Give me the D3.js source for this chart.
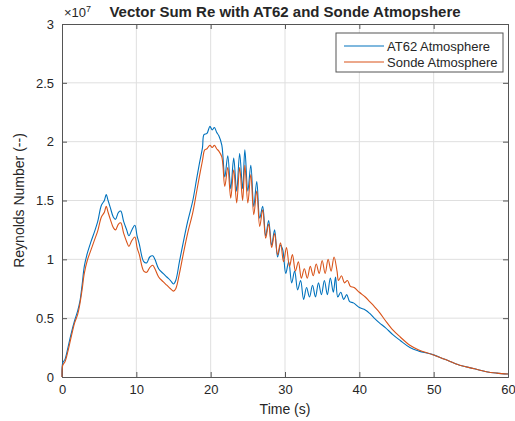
<!DOCTYPE html>
<html>
<head>
<meta charset="utf-8">
<script src="https://cdn.jsdelivr.net/npm/d3@7"></script>
<style>
  body { margin: 0; background: #fff; }
  text { font-family: "Liberation Sans", Arial, sans-serif; fill: #262626; }
</style>
</head>
<body>
<svg width="515" height="421"></svg>
<script>
// time (s) and Reynolds number (x1e7)
var timeAT62 = [0, 0.1, 0.4, 0.8, 1.2, 1.7, 2.1, 2.4, 2.7, 3.0, 3.4, 3.9, 4.4, 4.8, 5.3, 5.7, 5.95, 6.2, 6.5, 6.9,
  7.2, 7.6, 7.9, 8.3, 8.7, 9.0, 9.4, 9.8, 10.1, 10.4, 11.0, 11.4, 11.8, 12.2, 12.5, 13.0, 13.6, 14.1, 14.6, 15.0,
  15.3, 15.8, 16.3, 16.9, 17.6, 18.1, 18.5, 18.9, 19.1, 19.5, 19.9, 20.2, 20.5, 20.8, 21.1, 21.5,
  21.9, 22.3, 22.7, 23.1, 23.5, 23.9, 24.3, 24.6, 25.0, 25.4, 25.8, 26.2, 26.6, 27.0, 27.4, 27.8, 28.2, 28.6,
  29.0, 29.4, 29.7, 30.1, 30.5, 30.9, 31.3, 31.7, 32.1, 32.5, 32.9, 33.3, 33.7, 34.1, 34.5, 34.9, 35.3, 35.7,
  36.1, 36.5, 36.8, 37.1, 37.5, 37.9, 38.3, 38.7, 39.2, 40.0, 40.8, 41.4, 42.0, 42.7, 43.5, 44.5, 45.5, 46.8,
  48.0, 49.9, 51.5, 53.5, 55.5, 57.1, 58.5, 60];
var reAT62 = [0, 0.12, 0.15, 0.25, 0.36, 0.48, 0.56, 0.64, 0.78, 0.94, 1.05, 1.15, 1.24, 1.32, 1.46, 1.50, 1.55, 1.50, 1.44, 1.36,
  1.34, 1.40, 1.41, 1.32, 1.25, 1.20, 1.25, 1.29, 1.20, 1.13, 0.98, 0.97, 1.02, 1.03, 1.00, 0.92, 0.88, 0.85, 0.82, 0.79,
  0.82, 0.98, 1.14, 1.32, 1.50, 1.68, 1.82, 1.95, 2.06, 2.07, 2.13, 2.10, 2.12, 2.08, 2.05, 1.97,
  1.70, 1.88, 1.60, 1.86, 1.58, 1.90, 1.60, 1.93, 1.58, 1.80, 1.45, 1.66, 1.35, 1.45, 1.20, 1.33, 1.12, 1.25,
  1.02, 1.12, 1.08, 0.88, 0.98, 0.80, 0.90, 0.74, 0.82, 0.66, 0.76, 0.68, 0.78, 0.68, 0.80, 0.70, 0.82, 0.70,
  0.84, 0.72, 0.85, 0.68, 0.72, 0.66, 0.70, 0.64, 0.63, 0.59, 0.57, 0.54, 0.50, 0.46, 0.42, 0.36, 0.31, 0.25,
  0.22, 0.19, 0.15, 0.10, 0.07, 0.045, 0.033, 0.025];

var timeSonde = [0, 0.1, 0.4, 0.8, 1.2, 1.7, 2.1, 2.4, 2.7, 3.0, 3.4, 3.9, 4.4, 4.8, 5.3, 5.7, 5.95, 6.2, 6.5, 6.9,
  7.2, 7.6, 7.9, 8.3, 8.7, 9.0, 9.4, 9.8, 10.1, 10.4, 11.0, 11.4, 11.8, 12.2, 12.5, 13.0, 13.6, 14.1, 14.6, 15.0,
  15.3, 15.8, 16.3, 16.9, 17.6, 18.1, 18.5, 18.9, 19.2, 19.5, 19.9, 20.2, 20.5, 20.8, 21.1, 21.5,
  21.9, 22.3, 22.7, 23.1, 23.5, 23.9, 24.3, 24.6, 25.0, 25.4, 25.8, 26.2, 26.6, 27.0, 27.4, 27.8, 28.2, 28.6,
  29.0, 29.4, 29.8, 30.2, 30.6, 31.0, 31.4, 31.8, 32.2, 32.6, 33.0, 33.4, 33.8, 34.2, 34.6, 35.0, 35.4, 35.8,
  36.2, 36.6, 37.0, 37.2, 37.6, 38.0, 38.4, 38.8, 39.3, 40.0, 40.8, 41.4, 42.0, 42.7, 43.5, 44.5, 45.5, 46.8,
  48.0, 49.9, 51.5, 53.5, 55.5, 57.1, 58.5, 60];
var reSonde = [0, 0.10, 0.13, 0.22, 0.33, 0.46, 0.53, 0.62, 0.74, 0.88, 0.99, 1.08, 1.17, 1.24, 1.36, 1.40, 1.45, 1.40, 1.34, 1.27,
  1.25, 1.30, 1.31, 1.22, 1.15, 1.11, 1.16, 1.19, 1.10, 1.04, 0.90, 0.89, 0.93, 0.95, 0.92, 0.85, 0.81, 0.78, 0.75, 0.73,
  0.75, 0.88, 1.04, 1.22, 1.40, 1.57, 1.71, 1.84, 1.93, 1.94, 1.97, 1.95, 1.97, 1.94, 1.92, 1.87,
  1.62, 1.78, 1.52, 1.76, 1.48, 1.78, 1.50, 1.80, 1.48, 1.72, 1.38, 1.58, 1.28, 1.42, 1.18, 1.30, 1.10, 1.22,
  1.04, 1.14, 0.98, 1.10, 0.94, 1.04, 0.90, 0.98, 0.84, 0.92, 0.84, 0.94, 0.86, 0.96, 0.88, 0.99, 0.88, 1.00,
  0.90, 1.02, 0.90, 0.82, 0.86, 0.80, 0.82, 0.77, 0.76, 0.72, 0.68, 0.64, 0.60, 0.55, 0.48, 0.40, 0.34, 0.27,
  0.23, 0.19, 0.15, 0.10, 0.07, 0.045, 0.033, 0.025];

var xTicks = [0, 10, 20, 30, 40, 50, 60];
var yTicks = [0, 0.5, 1, 1.5, 2, 2.5, 3];
var seriesNames = ["AT62 Atmosphere", "Sonde Atmosphere"];
var seriesColors = ["#0072BD", "#D95319"];

var svg = d3.select("svg"),
    margin = {left: 62, right: 7, top: 24, bottom: 44},
    width = +svg.attr("width") - margin.left - margin.right,
    height = +svg.attr("height") - margin.top - margin.bottom;

var x = d3.scaleLinear().domain([0, 60]).range([0, width]);
var y = d3.scaleLinear().domain([0, 3]).range([height, 0]);

var g = svg.append("g").attr("transform", "translate(" + margin.left + "," + margin.top + ")");

// grid
g.append("g").selectAll("line").data(xTicks.slice(1, -1)).enter().append("line")
    .attr("x1", function(d) { return x(d); }).attr("x2", function(d) { return x(d); })
    .attr("y1", 0).attr("y2", height)
    .attr("stroke", "#dfdfdf").attr("stroke-width", 1);
g.append("g").selectAll("line").data(yTicks.slice(1, -1)).enter().append("line")
    .attr("y1", function(d) { return y(d); }).attr("y2", function(d) { return y(d); })
    .attr("x1", 0).attr("x2", width)
    .attr("stroke", "#dfdfdf").attr("stroke-width", 1);

// axes, ticks pointing inward
var xAxis = g.append("g").attr("transform", "translate(0," + height + ")")
    .call(d3.axisBottom(x).tickValues(xTicks).tickSize(-5).tickPadding(8).tickFormat(d3.format("d")));
var yAxis = g.append("g")
    .call(d3.axisLeft(y).tickValues(yTicks).tickSize(-5).tickPadding(8).tickFormat(function(d) { return d; }));
var xAxisTop = g.append("g")
    .call(d3.axisTop(x).tickValues(xTicks).tickSize(-5).tickFormat(""));
var yAxisRight = g.append("g").attr("transform", "translate(" + width + ",0)")
    .call(d3.axisRight(y).tickValues(yTicks).tickSize(-5).tickFormat(""));

[xAxis, yAxis, xAxisTop, yAxisRight].forEach(function(a) {
    a.select(".domain").attr("stroke", "#555");
    a.selectAll(".tick line").attr("stroke", "#555");
    a.selectAll("text").style("font-size", "13px").attr("fill", "#262626")
        .style("font-family", "'Liberation Sans', Arial, sans-serif");
});

// lines
var line = d3.line()
    .curve(d3.curveCatmullRom)
    .x(function(d) { return x(d[0]); })
    .y(function(d) { return y(d[1]); });

var series = [d3.zip(timeAT62, reAT62), d3.zip(timeSonde, reSonde)];

g.append("g").selectAll("path").data(series).enter().append("path")
    .attr("d", line)
    .attr("fill", "none")
    .attr("stroke", function(d, i) { return seriesColors[i]; })
    .attr("stroke-width", 1.1);

// exponent label
var expo = svg.append("text").attr("x", margin.left + 2).attr("y", 17).style("font-size", "13px");
expo.append("tspan").text("\u00d710");
expo.append("tspan").attr("dy", -5).style("font-size", "9px").text("7");

// title
svg.append("text")
    .attr("x", 285).attr("y", 17)
    .attr("text-anchor", "middle")
    .style("font-size", "15px").style("font-weight", "bold")
    .attr("fill", "#000")
    .text("Vector Sum Re with AT62 and Sonde Atmopshere");

// axis labels
svg.append("text")
    .attr("x", margin.left + width / 2).attr("y", 414)
    .attr("text-anchor", "middle").style("font-size", "14px")
    .text("Time (s)");
svg.append("text")
    .attr("transform", "translate(24," + (margin.top + height / 2) + ") rotate(-90)")
    .attr("text-anchor", "middle").style("font-size", "14px")
    .text("Reynolds Number (--)");

// legend
var legend = svg.append("g").attr("transform", "translate(336,33)");
legend.append("rect").attr("width", 167).attr("height", 39)
    .attr("fill", "#fff").attr("stroke", "#555").attr("stroke-width", 1);
var items = legend.selectAll("g.item").data(seriesNames).enter().append("g")
    .attr("transform", function(d, i) { return "translate(0," + (13 + i * 16) + ")"; });
items.append("line").attr("x1", 8).attr("x2", 48).attr("y1", 0).attr("y2", 0)
    .attr("stroke", function(d, i) { return seriesColors[i]; }).attr("stroke-width", 1.1);
items.append("text").attr("x", 51).attr("y", 4.5).style("font-size", "13px").text(function(d) { return d; });
</script>
</body>
</html>
